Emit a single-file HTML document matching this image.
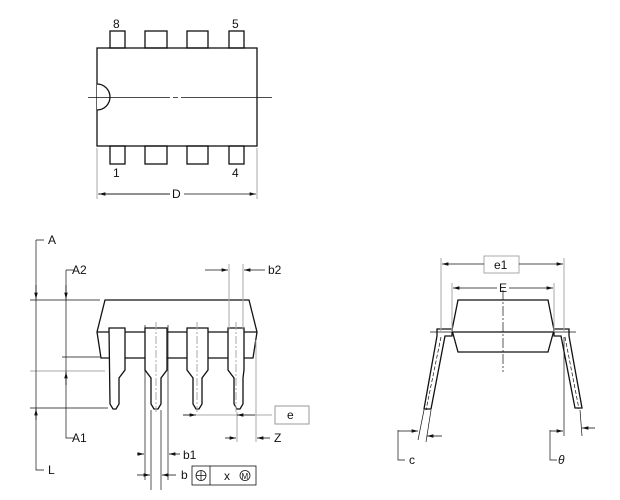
<!DOCTYPE html>
<html><head><style>body{margin:0;background:#fff}svg{display:block}text{font-family:"Liberation Sans",sans-serif;font-size:12px;fill:#111}</style></head><body>
<svg width="620" height="500" viewBox="0 0 620 500" xmlns="http://www.w3.org/2000/svg">
<defs><marker id="a" markerWidth="8" markerHeight="6" refX="8" refY="3" orient="auto"><path d="M0,0.8 L8,3 L0,5.2z" fill="#111"/></marker></defs>
<g fill="none" stroke="#111" stroke-width="1.3">
<!-- top view -->
<rect x="97" y="48" width="160" height="98"/>
<rect x="110" y="31" width="15" height="17"/><rect x="145" y="31" width="22" height="17"/><rect x="187" y="31" width="21" height="17"/><rect x="229" y="31" width="15" height="17"/>
<rect x="110" y="146" width="15" height="18"/><rect x="145" y="146" width="22" height="18"/><rect x="187" y="146" width="21" height="18"/><rect x="229" y="146" width="15" height="18"/>
<path d="M97,84 A13,13 0 0 1 97,110" fill="#fff"/>
</g>
<g stroke="#111" stroke-width="0.7" fill="none">
<path d="M88,97.5 H170 M173,97.5 H178 M181,97.5 H272"/>
</g>
<g stroke="#aaa" stroke-width="1"><path d="M97,148 V199 M257,148 V199"/></g>
<g stroke="#111" stroke-width="0.8"><path d="M98,194 H170 M184,194 H256" marker-end="url(#a)"/><path d="M170,194 H99" marker-end="url(#a)"/></g>
<text x="113" y="28">8</text><text x="232" y="28">5</text><text x="113" y="177">1</text><text x="232" y="177">4</text><text x="172" y="198">D</text>
<!-- side view -->
<g fill="#fff" stroke="#111" stroke-width="1.3">
<path d="M105,300 H249 L257,332 L253,358 H101 L97,332 Z"/>
<path d="M97,332 H257"/>
<path d="M109,328 H125 V370 L119,378 V404 L116,409 H113 L110,404 Z"/>
<path d="M145,328 H167 V370 L161,378 V404 L158,409 H154 L151,404 V378 L145,370 Z"/>
<path d="M187,328 H208 V370 L202,378 V404 L199,409 H196 L193,404 V378 L187,370 Z"/>
<path d="M228,328 H244 V370 L243,378 V404 L240,409 H237 L234,404 V378 L228,370 Z"/>
</g>
<g stroke="#aaa" stroke-width="1" fill="none">
<path d="M156,322 V412 M197,322 V412 M236,322 V412" stroke-dasharray="8,2,2,2"/>
<path d="M229,264 V330 M243,264 V330 M256,340 V442 M30,371 H105 M183,415 H272 M237,412 V442"/>
</g>
<g stroke="#111" stroke-width="0.7" fill="none">
<path d="M36,240 H44 M36,240 V470 H44 M66,270 H74 M66,270 V438 H74"/>
<path d="M30,300 H100 M62,357 H100 M30,408 H108 M145,325 V480 M168,325 V480 M151,410 V490 M161,410 V490"/>
</g>
<g stroke="#111" stroke-width="0.8" fill="none">
<path d="M36,285 V299" marker-end="url(#a)"/><path d="M36,420 V409" marker-end="url(#a)"/>
<path d="M66,285 V299" marker-end="url(#a)"/><path d="M66,385 V372" marker-end="url(#a)"/>
<path d="M205,270 H228" marker-end="url(#a)"/><path d="M265,270 H244" marker-end="url(#a)"/>
<path d="M183,415 H196" marker-end="url(#a)"/><path d="M243,415 H237"/><path d="M255,415 H237" marker-end="url(#a)"/>
<path d="M225,438 H236" marker-end="url(#a)"/><path d="M270,438 H257" marker-end="url(#a)"/>
<path d="M137,454 H144" marker-end="url(#a)"/><path d="M180,454 H169" marker-end="url(#a)"/>
<path d="M137,475 H150" marker-end="url(#a)"/><path d="M176,475 H162" marker-end="url(#a)"/>
</g>
<g stroke="#111" stroke-width="0.8" fill="none"><rect x="192" y="466" width="64" height="19"/><path d="M210,466 V485"/><circle cx="201" cy="475.5" r="5"/><path d="M196,475.5 H206 M201,470.5 V480.5"/><circle cx="245" cy="475.5" r="5"/></g>
<g stroke="#999" fill="none"><rect x="275" y="406" width="34" height="18"/></g>
<text x="48" y="244">A</text><text x="72" y="274">A2</text><text x="72" y="442">A1</text><text x="48" y="474">L</text>
<text x="268" y="274">b2</text><text x="287" y="419">e</text><text x="274" y="442">Z</text><text x="183" y="459">b1</text><text x="181" y="479">b</text><text x="224" y="480">x</text><text x="241.5" y="479" style="font-size:8px">M</text>
<!-- end view -->
<g fill="#fff" stroke="#111" stroke-width="1.3">
<path d="M458,300 H548 L554,330 L548,352 H458 L452,330 Z"/><path d="M452,332 H554"/>
<path d="M437,329 H452 V336 H445 L431,409 H424 L437,336 Z"/>
<path d="M569,329 H554 V336 H561 L575,408 H582 L569,336 Z"/>
</g>
<g stroke="#111" stroke-width="0.7" fill="none">
<path d="M503,290 V372" stroke-dasharray="10,2,2,2"/><path d="M430,332 H576"/>
<path d="M441,337 L426,410 M565,337 L579,409" stroke-dasharray="4,2"/>
<path d="M398,430 V460 H405 M550,430 V460 H557"/>
<path d="M424,410 L418,440 M431,410 L426,442 M580,410 L582,436 M564,337 V436"/>
</g>
<g stroke="#aaa" stroke-width="1" fill="none"><path d="M441,258 V332 M564,258 V332 M452,283 V332 M554,283 V332"/><rect x="484" y="256" width="35" height="17"/></g>
<g stroke="#111" stroke-width="0.8" fill="none">
<path d="M484,264 H442" marker-end="url(#a)"/><path d="M519,264 H563" marker-end="url(#a)"/>
<path d="M497,288 H453" marker-end="url(#a)"/><path d="M509,288 H553" marker-end="url(#a)"/>
<path d="M398,431 H418" marker-end="url(#a)"/><path d="M442,436 H427" marker-end="url(#a)"/>
<path d="M550,431 H563" marker-end="url(#a)"/><path d="M595,428 H582" marker-end="url(#a)"/>
</g>
<text x="494" y="269">e1</text><text x="499" y="292">E</text><text x="409" y="464">c</text><text x="558" y="464" style="font-style:italic">θ</text>
</svg>
</body></html>
